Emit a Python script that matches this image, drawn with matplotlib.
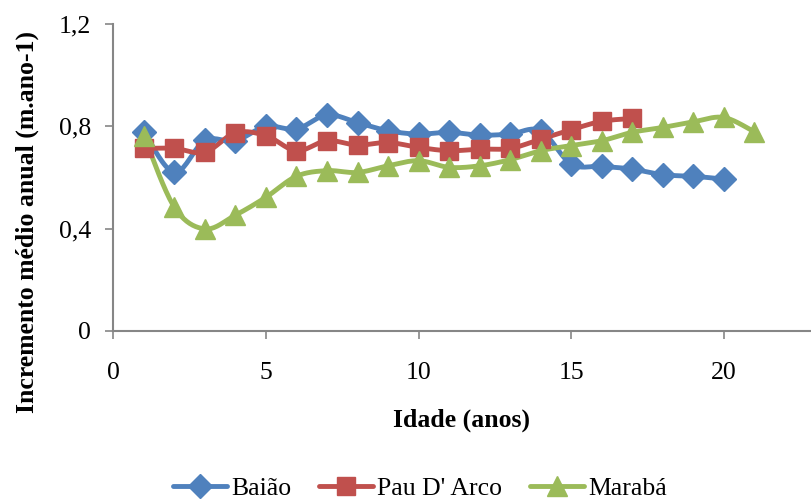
import numpy as np
import matplotlib
matplotlib.use("Agg")
import matplotlib.pyplot as plt
from matplotlib.lines import Line2D

plt.rcParams['font.family'] = ['Liberation Serif', 'DejaVu Serif']

idade_baiao = list(range(1, 21))
baiao = [0.779, 0.62, 0.745, 0.744, 0.80, 0.79, 0.845, 0.815, 0.783, 0.77,
         0.777, 0.766, 0.77, 0.783, 0.653, 0.644, 0.633, 0.611, 0.605, 0.594]

idade_pau = list(range(1, 18))
pau_darco = [0.714, 0.714, 0.699, 0.775, 0.764, 0.705, 0.744, 0.727, 0.737, 0.718,
             0.705, 0.711, 0.714, 0.75, 0.787, 0.82, 0.831]

idade_maraba = list(range(1, 22))
maraba = [0.764, 0.484, 0.399, 0.453, 0.523, 0.605, 0.627, 0.62, 0.646, 0.666,
          0.64, 0.646, 0.67, 0.705, 0.725, 0.744, 0.777, 0.796, 0.818, 0.835, 0.779]

yticks = [0, 0.4, 0.8, 1.2]
ylabels = ['0', '0,4', '0,8', '1,2']
xticks = [0, 5, 10, 15, 20]


def suave(x, y, n=20):
    # curva suavizada tipo Excel (Catmull-Rom)
    x = np.asarray(x, float)
    y = np.asarray(y, float)
    px = np.concatenate([[x[0]], x, [x[-1]]])
    py = np.concatenate([[y[0]], y, [y[-1]]])
    xs, ys = [], []
    t = np.linspace(0, 1, n, endpoint=False)
    for i in range(1, len(px) - 2):
        p0, p1, p2, p3 = px[i-1], px[i], px[i+1], px[i+2]
        q0, q1, q2, q3 = py[i-1], py[i], py[i+1], py[i+2]
        c1x, c1y = p1 + (p2 - p0) / 6, q1 + (q2 - q0) / 6
        c2x, c2y = p2 - (p3 - p1) / 6, q2 - (q3 - q1) / 6
        b = [(1-t)**3, 3*(1-t)**2*t, 3*(1-t)*t**2, t**3]
        xs.append(b[0]*p1 + b[1]*c1x + b[2]*c2x + b[3]*p2)
        ys.append(b[0]*q1 + b[1]*c1y + b[2]*c2y + b[3]*q2)
    xs.append([x[-1]])
    ys.append([y[-1]])
    return np.concatenate(xs), np.concatenate(ys)


fig = plt.figure(figsize=(8.11, 5.03), dpi=100)
ax = fig.add_axes([0.1397, 0.342, 0.941, 0.610])

series = [
    (idade_baiao, baiao, '#4F81BD', 'D', 12, 'Baião'),
    (idade_pau, pau_darco, '#C0504D', 's', 13, "Pau D' Arco"),
    (idade_maraba, maraba, '#9BBB59', '^', 15, 'Marabá'),
]

handles = []
for x, y, cor, mk, ms, nome in series:
    sx, sy = suave(x, y)
    ax.plot(sx, sy, color=cor, lw=3.5, solid_capstyle='round', zorder=2)
    ax.plot(x, y, ls='none', marker=mk, ms=ms, color=cor, zorder=3)
    handles.append(Line2D([], [], color=cor, lw=3.5, marker=mk, ms=ms,
                          solid_capstyle='round', label=nome))

ax.set_xlim(0, 25)
ax.set_ylim(0, 1.2)
ax.set_xticks(xticks)
ax.set_yticks(yticks)
ax.set_yticklabels(ylabels)
for s in ['top', 'right']:
    ax.spines[s].set_visible(False)
for s in ['left', 'bottom']:
    ax.spines[s].set_color('#868686')
    ax.spines[s].set_linewidth(1.5)
ax.tick_params(colors='#868686', labelcolor='black', labelsize=18.5,
               length=6, width=1.2, direction='out')
ax.tick_params(axis='x', pad=16.5)
ax.tick_params(axis='y', pad=10)

fig.text(462/811, 1 - 420/503, 'Idade (anos)', ha='center', va='center',
         fontsize=18.5, fontweight='bold')
fig.text(27/811, 1 - 222/503, 'Incremento médio anual (m.ano-1)', ha='center',
         va='center', rotation=90, fontsize=18.5, fontweight='bold')

fig.legend(handles=handles, loc='center', bbox_to_anchor=(0.518, 0.028),
           ncol=3, frameon=False, prop={'family': 'Liberation Serif', 'size': 18.5},
           handlelength=2.1, handletextpad=0.15, columnspacing=1.1)

fig.savefig('out.png', dpi=100)
